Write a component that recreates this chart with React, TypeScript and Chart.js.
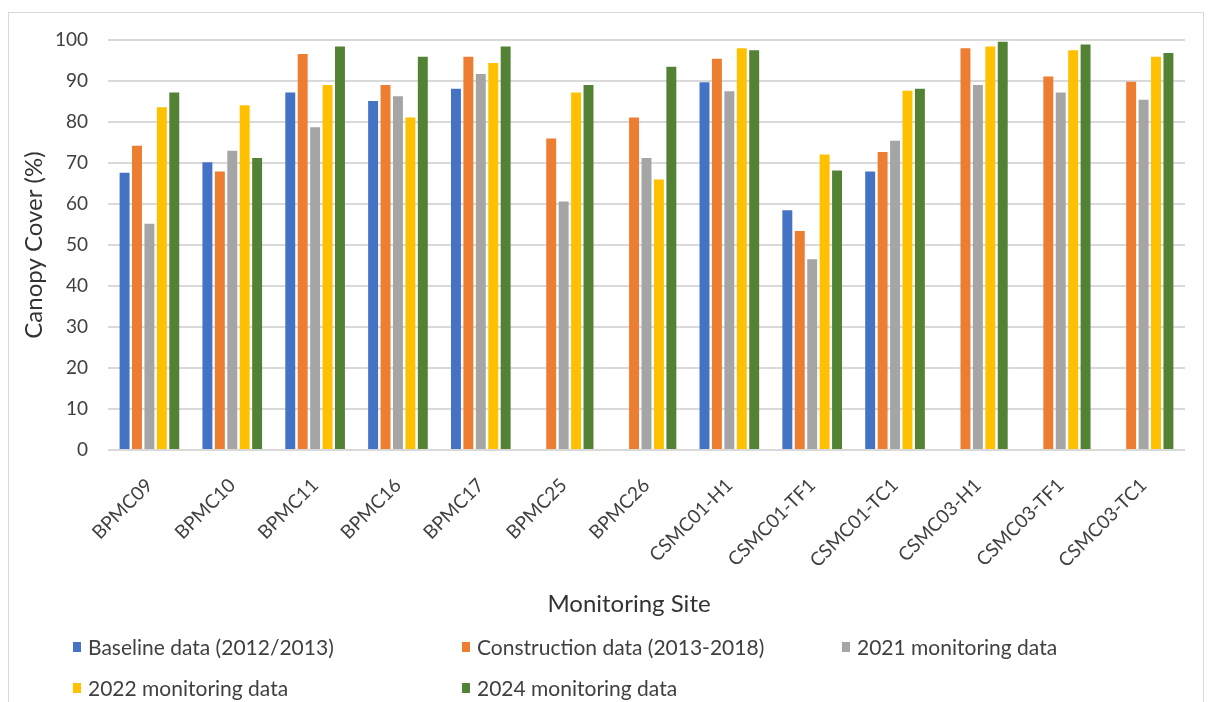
import React, { useEffect, useRef } from "react";
import { Chart, registerables } from "chart.js";

Chart.register(...registerables);

const categories = [
  "BPMC09", "BPMC10", "BPMC11", "BPMC16", "BPMC17", "BPMC25", "BPMC26",
  "CSMC01-H1", "CSMC01-TF1", "CSMC01-TC1", "CSMC03-H1", "CSMC03-TF1", "CSMC03-TC1",
];

const baselineData = [67.6, 70.2, 87.2, 85.1, 88.1, null, null, 89.7, 58.5, 67.9, null, null, null];
const constructionData = [74.2, 67.9, 96.6, 89.0, 95.9, 76.0, 81.1, 95.4, 53.4, 72.7, 98.0, 91.1, 89.8];
const monitoring2021 = [55.2, 73.0, 78.7, 86.3, 91.7, 60.6, 71.2, 87.5, 46.5, 75.4, 89.0, 87.2, 85.4];
const monitoring2022 = [83.6, 84.1, 89.0, 81.1, 94.4, 87.2, 66.0, 98.0, 72.1, 87.6, 98.4, 97.5, 95.9];
const monitoring2024 = [87.2, 71.2, 98.4, 95.9, 98.4, 89.0, 93.5, 97.5, 68.2, 88.1, 99.6, 98.9, 96.8];

const seriesLabels = [
  "Baseline data (2012/2013)",
  "Construction data (2013-2018)",
  "2021 monitoring data",
  "2022 monitoring data",
  "2024 monitoring data",
];
const seriesColors = ["#4472C4", "#ED7D31", "#A5A5A5", "#FFC000", "#548235"];
const seriesValues = [baselineData, constructionData, monitoring2021, monitoring2022, monitoring2024];

const yTicksMin = 0;
const yTicksMax = 100;
const yTicksStep = 10;

const xAxisTitle = "Monitoring Site";
const yAxisTitle = "Canopy Cover (%)";

const FONT = "Lato, 'Open Sans', sans-serif";

export default function App() {
  const canvasRef = useRef<HTMLCanvasElement | null>(null);

  useEffect(() => {
    if (!canvasRef.current) return;
    const chart = new Chart(canvasRef.current, {
      type: "bar",
      data: {
        labels: categories,
        datasets: seriesLabels.map((label, i) => ({
          label,
          data: seriesValues[i],
          backgroundColor: seriesColors[i],
          borderWidth: 0,
          barPercentage: 0.8,
          categoryPercentage: 0.75,
        })),
      },
      options: {
        responsive: false,
        animation: false,
        devicePixelRatio: 1,
        layout: { padding: { left: 7, right: 18, top: 27, bottom: 0 } },
        plugins: {
          legend: { display: false },
          tooltip: { enabled: false },
        },
        scales: {
          x: {
            grid: { display: false },
            border: { display: false },
            ticks: {
              autoSkip: false,
              maxRotation: 45,
              minRotation: 45,
              padding: 16,
              color: "#404040",
              font: { family: FONT, size: 19 },
            },
            afterFit: (scale: any) => {
              scale.height = 169;
            },
          },
          y: {
            min: yTicksMin,
            max: yTicksMax,
            grid: { color: "#d9d9d9", lineWidth: 2, drawTicks: false },
            border: { display: false },
            ticks: {
              stepSize: yTicksStep,
              padding: 20,
              color: "#404040",
              font: { family: FONT, size: 19 },
            },
            title: {
              display: true,
              text: yAxisTitle,
              color: "#333333",
              font: { family: FONT, size: 24 },
              padding: { top: 4, bottom: 4 },
            },
            afterFit: (scale: any) => {
              scale.width = 92;
              scale.paddingTop = 12;
              scale.paddingBottom = 12;
            },
          },
        },
      },
    });
    return () => chart.destroy();
  }, []);

  const legendCols = [0, 389, 769];

  return (
    <div style={{ paddingTop: 4 }}>
      <div
        style={{
          position: "relative",
          border: "1px solid #d9d9d9",
          height: 700,
          boxSizing: "border-box",
        }}
      >
        <canvas ref={canvasRef} width={1194} height={606} style={{ display: "block" }} />
        <div
          style={{
            position: "absolute",
            left: 0,
            width: 1240,
            top: 575,
            lineHeight: "30px",
            textAlign: "center",
            fontFamily: FONT,
            fontSize: 24,
            color: "#333333",
          }}
        >
          {xAxisTitle}
        </div>
        <div style={{ position: "relative", height: 90 }}>
          {seriesLabels.map((label, i) => {
            const row = Math.floor(i / 3);
            const col = i % 3;
            return (
              <div
                key={label}
                style={{
                  position: "absolute",
                  left: 64 + legendCols[col],
                  top: 15 + row * 41,
                  display: "flex",
                  alignItems: "center",
                  fontFamily: FONT,
                  fontSize: 21,
                  color: "#404040",
                  whiteSpace: "nowrap",
                  lineHeight: "26px",
                }}
              >
                <span
                  style={{
                    display: "inline-block",
                    width: 8,
                    height: 10,
                    background: seriesColors[i],
                    marginRight: 7,
                  }}
                />
                {label}
              </div>
            );
          })}
        </div>
      </div>
    </div>
  );
}
